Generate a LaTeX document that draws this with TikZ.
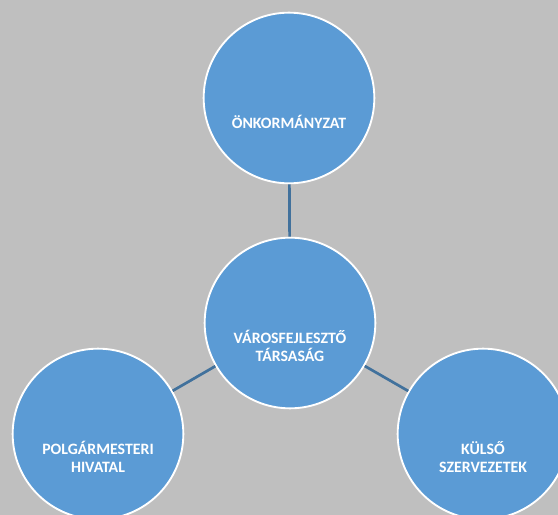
\documentclass[tikz,border=0pt]{standalone}
\usepackage{fontspec}
\setmainfont{Carlito}
\usepackage{tikz}
\usetikzlibrary{positioning}
\definecolor{bggray}{HTML}{BFBFBF}
\definecolor{orgblue}{HTML}{5B9BD5}
\definecolor{linkblue}{HTML}{41719C}

\begin{document}
\begin{tikzpicture}[
  x=0.03cm, y=-0.03cm,
  unit/.style  = {circle, draw=white, line width=1.6pt, fill=orgblue,
                  minimum size=5.12cm, inner sep=0pt},
  txt/.style   = {text=white, align=center,
                  font=\fontsize{13.5}{15.5}\selectfont\bfseries},
  link/.style  = {draw=linkblue, line width=2.3pt},
]
\useasboundingbox (0,0) rectangle (558,515);
\clip (0,0) rectangle (558,515);
\fill[bggray] (0,0) rectangle (558,515);
% units
\node[unit, label={[txt, yshift=-0.72cm]center:ÖNKORMÁNYZAT}] (onk) at (289, 98) {};
\node[unit, label={[txt, yshift=-0.68cm]center:VÁROSFEJLESZTŐ\\TÁRSASÁG}] (vft) at (290, 323) {};
\node[unit, label={[txt, yshift=-0.68cm]center:POLGÁRMESTERI\\HIVATAL}] (ph) at (98, 434) {};
\node[unit, label={[txt, yshift=-0.68cm]center:KÜLSŐ\\SZERVEZETEK}] (kulso) at (483, 434) {};
% links
\draw[link] (vft) -- (onk);
\draw[link] (vft) -- (ph);
\draw[link] (vft) -- (kulso);
\end{tikzpicture}
\end{document}
